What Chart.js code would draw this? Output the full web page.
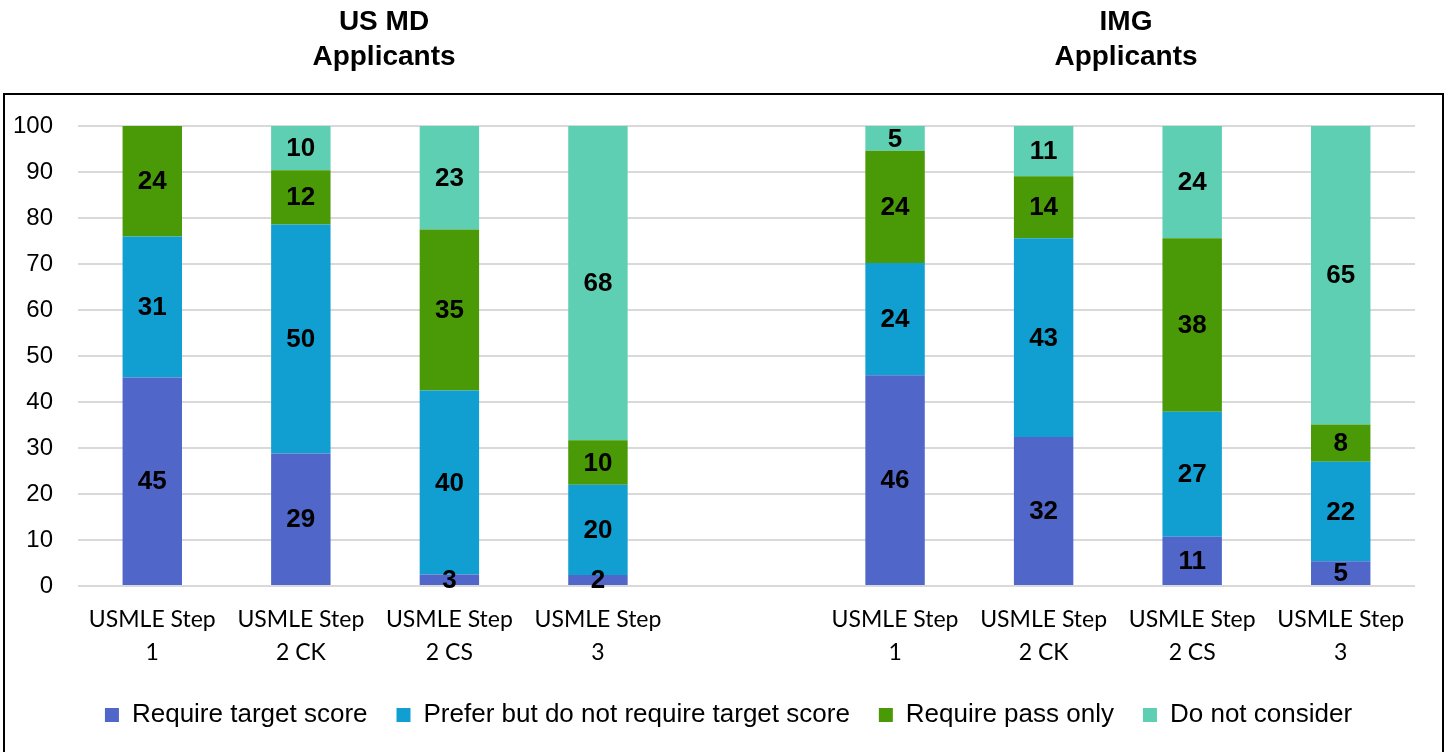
<!DOCTYPE html>
<html>
<head>
<meta charset="utf-8">
<script src="https://cdn.jsdelivr.net/npm/chart.js@4"></script>
<style>
  html, body { margin: 0; padding: 0; background: #fff; }
  #wrap { position: relative; width: 1447px; height: 752px; }
</style>
</head>
<body>
<div id="wrap"><canvas id="usmle"></canvas></div>
<script>
// ─── Data ─────────────────────────────────────────────
const categories = [
  ['USMLE Step', '1'], ['USMLE Step', '2 CK'], ['USMLE Step', '2 CS'], ['USMLE Step', '3'],
  '',
  ['USMLE Step', '1'], ['USMLE Step', '2 CK'], ['USMLE Step', '2 CS'], ['USMLE Step', '3']
]
const groupTitles   = [['US MD', 'Applicants'], ['IMG', 'Applicants']]
const seriesNames   = ['Require target score', 'Prefer but do not require target score', 'Require pass only', 'Do not consider']
const requireTarget = [45.3, 28.8, 2.5, 2.4, null, 45.8, 32.4, 10.7, 5.4]
const preferTarget  = [30.7, 49.8, 40.0, 19.6, null, 24.4, 43.2, 27.2, 21.6]
const requirePass   = [24.0, 11.8, 35.0, 9.7, null, 24.4, 13.5, 37.7, 8.1]
const doNotConsider = [0, 9.6, 22.5, 68.3, null, 5.4, 10.9, 24.4, 64.9]

// ─── Style ────────────────────────────────────────────
const colors = ['#5066c8', '#119fd2', '#4a9906', '#5ecfb2']
const titleX = [384, 1126]
const legendShift = 21

// ─── Plugins ──────────────────────────────────────────
const frame = {
  id: 'frame',
  afterLayout(chart) {
    // legend is centred on the whole frame, not on the plot area
    chart.legend.left  += legendShift
    chart.legend.right += legendShift
  },
  beforeDraw(chart) {
    const c = chart.ctx
    c.save()
    c.strokeStyle = '#000'
    c.lineWidth = 2
    c.strokeRect(4, 94, 1439, 700)
    c.fillStyle = '#000'
    c.font = 'bold 28px Arial, "Liberation Sans", sans-serif'
    c.textAlign = 'center'
    c.textBaseline = 'middle'
    groupTitles.forEach((lines, i) => {
      c.fillText(lines[0], titleX[i], 22)
      c.fillText(lines[1], titleX[i], 57)
    })
    c.restore()
  }
}

const segLabels = {
  id: 'segLabels',
  afterDatasetsDraw(chart) {
    const c = chart.ctx
    c.save()
    c.fillStyle = '#000'
    c.font = 'bold 26px Arial, "Liberation Sans", sans-serif'
    c.textAlign = 'center'
    c.textBaseline = 'middle'
    chart.data.datasets.forEach((ds, di) => {
      chart.getDatasetMeta(di).data.forEach((bar, i) => {
        const v = ds.data[i]
        if (!v) return
        c.fillText(Math.round(v), bar.x, (bar.y + bar.base) / 2 + 1)
      })
    })
    c.restore()
  }
}

// ─── Chart ────────────────────────────────────────────
const series = [requireTarget, preferTarget, requirePass, doNotConsider]

new Chart(document.getElementById('usmle'), {
  type: 'bar',
  data: {
    labels: categories,
    datasets: series.map((d, i) => ({
      label: seriesNames[i],
      data: d,
      backgroundColor: colors[i],
      borderWidth: 0,
      barPercentage: 0.4,
      categoryPercentage: 1
    }))
  },
  options: {
    responsive: true,
    maintainAspectRatio: false,
    animation: false,
    layout: { padding: { top: 126, right: 32, bottom: 14, left: 0 } },
    scales: {
      x: {
        stacked: true,
        afterFit: s => { s.height = 87 },
        grid: { display: false, drawTicks: false },
        border: { display: false },
        ticks: {
          color: '#000',
          padding: 17,
          maxRotation: 0,
          autoSkip: false,
          font: { family: 'Lato, "Open Sans", sans-serif', size: 23, lineHeight: 1.45 }
        }
      },
      y: {
        stacked: true,
        min: 0,
        max: 100,
        afterFit: s => { s.width = 78 },
        grid: { color: '#d9d9d9', lineWidth: 2, drawTicks: false },
        border: { display: false },
        ticks: {
          stepSize: 10,
          color: '#000',
          padding: 25,
          font: { family: 'Arial, "Liberation Sans", sans-serif', size: 24 }
        }
      }
    },
    plugins: {
      legend: {
        position: 'bottom',
        labels: {
          color: '#000',
          boxWidth: 14,
          boxHeight: 14,
          padding: 29,
          font: { family: 'Arial, "Liberation Sans", sans-serif', size: 26 }
        }
      },
      tooltip: { enabled: false }
    }
  },
  plugins: [frame, segLabels]
})
</script>
</body>
</html>
